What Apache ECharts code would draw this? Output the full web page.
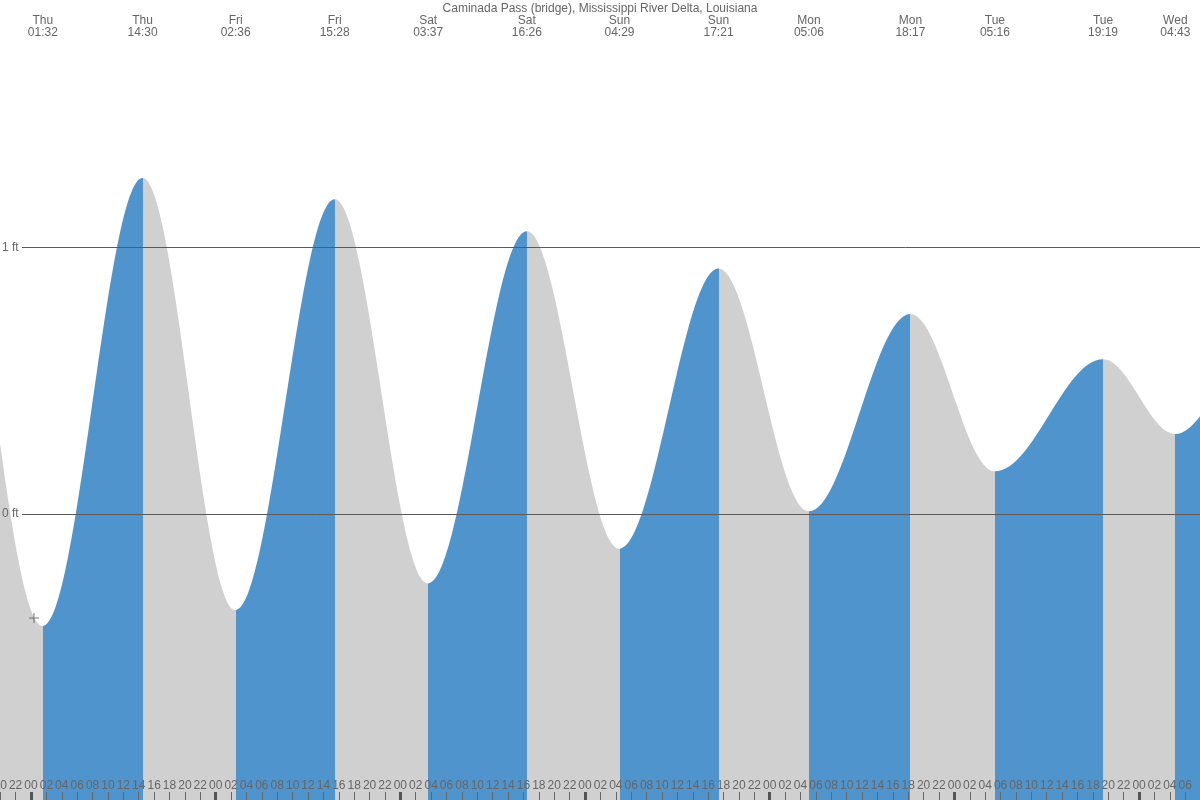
<!DOCTYPE html>
<html><head><meta charset="utf-8">
<script src="https://cdn.jsdelivr.net/npm/echarts@6/dist/echarts.min.js"></script>
<style>html,body{margin:0;padding:0;background:#fff}#c{width:1200px;height:800px}</style>
</head><body><div id="c"></div>
<script>
// ---- data ----
const titleText = 'Caminada Pass (bridge), Mississippi River Delta, Louisiana';
// high / low water times (first two and last two are estimated, outside the view)
const tideTimes = ['Wed 00:00','Wed 12:30','Thu 01:32','Thu 14:30','Fri 02:36','Fri 15:28','Sat 03:37','Sat 16:26',
  'Sun 04:29','Sun 17:21','Mon 05:06','Mon 18:17','Tue 05:16','Tue 19:19','Wed 04:43','Wed 14:00','Wed 22:00'];
const tideHeights = [-0.45,1.35,-0.42,1.26,-0.36,1.18,-0.26,1.06,-0.13,0.92,0.01,0.75,0.16,0.58,0.30,0.55,0.25];
const yTickValues = [0, 1];
const yUnit = ' ft';
const nowMarker = ['Thu 00:23', -0.39];
const dayNames = ['Wed','Thu','Fri','Sat','Sun','Mon','Tue'];
// visible window, hours from first Wednesday 00:00
const viewMin = 19.97, viewMax = 175.92;
const yMin = -1.072, yMax = 1.927;

const BLUE = '#4f94cd', GRAY = '#d0d0d0', TEXT = '#666', FONT = '"Liberation Sans", Arial, sans-serif';

function parseT(s, prev) {
  const [d, t] = s.split(' ');
  const [hh, mm] = t.split(':').map(Number);
  let h = dayNames.indexOf(d) * 24 + hh + mm / 60;
  while (prev != null && h < prev) h += 168;
  return h;
}
const tideHours = [];
tideTimes.forEach((s, i) => tideHours.push(parseT(s, i ? tideHours[i - 1] : null)));
const tideData = tideHours.map((h, i) => [h, tideHeights[i]]);

const pieces = [];
for (let i = 0; i < tideHours.length - 1; i++) {
  pieces.push({gte: tideHours[i], lt: tideHours[i + 1], color: tideHeights[i + 1] > tideHeights[i] ? BLUE : GRAY});
}
const visibleExtremes = tideHours.filter(h => h >= viewMin && h <= viewMax);
const evenHours = [];
for (let h = Math.ceil(viewMin / 2) * 2; h <= viewMax; h += 2) evenHours.push(h);
const midnights = evenHours.filter(h => h % 24 === 0);
const pad = n => (n < 10 ? '0' : '') + n;

const chart = echarts.init(document.getElementById('c'));
chart.setOption({
  animation: false,
  backgroundColor: '#fff',
  title: {text: titleText, left: 'center', top: 3, padding: 0,
    textStyle: {fontSize: 12, fontWeight: 'normal', color: TEXT, fontFamily: FONT}},
  grid: {left: 0, right: 0, top: 0, bottom: 0, containLabel: false, outerBoundsMode: 'none'},
  visualMap: {show: false, type: 'piecewise', dimension: 0, seriesIndex: 0, pieces: pieces, outOfRange: {color: GRAY}},
  xAxis: [
    {type: 'value', min: viewMin, max: viewMax, position: 'bottom', z: 10,
      axisLine: {show: false, onZero: false}, splitLine: {show: false},
      axisTick: {show: true, inside: true, length: 8, customValues: evenHours, lineStyle: {color: '#666', width: 1}},
      axisLabel: {show: true, inside: true, margin: 8, customValues: evenHours, verticalAlign: 'bottom',
        showMinLabel: true, showMaxLabel: true, hideOverlap: false,
        color: TEXT, fontSize: 12, fontFamily: FONT,
        formatter: v => pad(((Math.round(v) % 24) + 24) % 24)}},
    {type: 'value', min: viewMin, max: viewMax, position: 'bottom', z: 11,
      axisLine: {show: false, onZero: false}, splitLine: {show: false}, axisLabel: {show: false},
      axisTick: {show: true, inside: true, length: 8, customValues: midnights, lineStyle: {color: '#555', width: 3}}},
    {type: 'value', min: viewMin, max: viewMax, position: 'top', z: 10,
      axisLine: {show: false, onZero: false}, splitLine: {show: false}, axisTick: {show: false},
      axisLabel: {show: true, inside: true, margin: 15, customValues: visibleExtremes, verticalAlign: 'top',
        hideOverlap: false,
        color: TEXT, fontSize: 12, lineHeight: 12, fontFamily: FONT,
        formatter: v => { const i = tideHours.findIndex(h => Math.abs(h - v) < 1e-6); return i < 0 ? '' : tideTimes[i].replace(' ', '\n'); }}}
  ],
  yAxis: {type: 'value', min: yMin, max: yMax, z: 10,
    axisLine: {show: false, onZero: false}, axisTick: {show: false}, splitLine: {show: false},
    axisLabel: {show: true, inside: true, margin: 2, customValues: yTickValues, color: TEXT, fontSize: 12, fontFamily: FONT,
      formatter: v => v + yUnit}},
  series: [
    {type: 'line', name: 'tide', data: tideData, smooth: 0.36, smoothMonotone: 'x', symbol: 'none',
      lineStyle: {width: 0, opacity: 0}, areaStyle: {opacity: 1, origin: 'start'}, z: 3, silent: true},
    {type: 'line', name: 'grid', data: [], z: 1, silent: true,
      markLine: {silent: true, symbol: 'none', label: {show: false}, animation: false,
        lineStyle: {color: '#5a5a5a', width: 1, type: 'solid'},
        data: yTickValues.map(v => [{x: 22, yAxis: v}, {x: 1200, yAxis: v}])}},
    {type: 'scatter', name: 'now', z: 5, silent: true,
      data: [[parseT(nowMarker[0], null), nowMarker[1]]],
      symbol: 'path://M4.5,0h1v10h-1z M0,4.5h10v1h-10z', symbolSize: 10,
      itemStyle: {color: '#555'}}
  ]
});
</script></body></html>
